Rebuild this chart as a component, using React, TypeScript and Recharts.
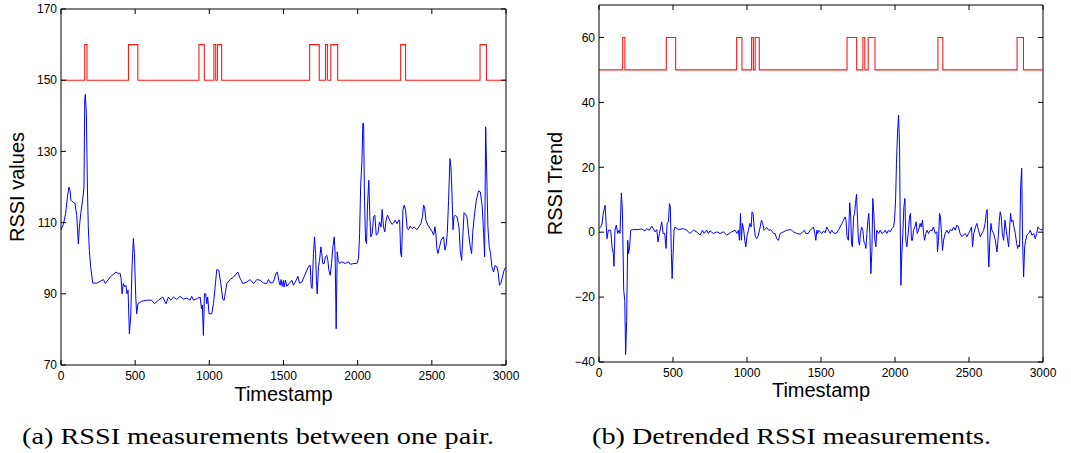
import { LineChart, Line, XAxis, YAxis, ReferenceLine } from "recharts";

const sans = "'Liberation Sans', Arial, Helvetica, sans-serif";

const timestampTicks = [0, 500, 1000, 1500, 2000, 2500, 3000];
const rssiTicks = [70, 90, 110, 130, 150, 170];
const trendTicks = [-40, -20, 0, 20, 40, 60];

// [timestamp, rssi]
const rssiPoints: [number, number][] = [
  [0, 108], [16, 109.5], [31, 112.5], [43, 117.2], [54, 120], [61, 119], [67, 116.3], [79, 115.8],
  [94, 115.4], [106, 112], [117, 104], [124, 108.8], [133, 112.5], [146, 116.3], [155, 120],
  [160, 144.4], [164, 146], [171, 140.7], [178, 120], [184, 108.8], [191, 102.2], [200, 97.6],
  [214, 93], [241, 93], [286, 94], [299, 92.9], [331, 94.7], [371, 96.1], [387, 95.7], [398, 95.8],
  [405, 94.3], [412, 90], [420, 92.9], [429, 92], [438, 92.4], [445, 90], [452, 91], [461, 78.8],
  [470, 83.5], [479, 97.6], [488, 105.5], [495, 101.3], [504, 89.1], [510, 84.4], [519, 87.2],
  [544, 87.9], [578, 88.2], [612, 88.2], [630, 87.2], [657, 88.2], [686, 89.1], [708, 87.2],
  [724, 89.1], [740, 88.2], [758, 89.1], [780, 88.4], [803, 89.3], [825, 88.5], [848, 88.8],
  [870, 88.2], [881, 89.3], [893, 88.2], [915, 88.6], [938, 89.1], [947, 85.8], [953, 86.8],
  [960, 78.3], [967, 90], [976, 90], [983, 87.2], [989, 89.1], [998, 84.4], [1016, 84.4],
  [1028, 87.2], [1039, 91.9], [1050, 96.8], [1064, 96.6], [1077, 92.9], [1091, 88.4], [1100, 88.2],
  [1118, 92.9], [1140, 94], [1163, 94.7], [1192, 96.1], [1208, 94.3], [1226, 92.9], [1253, 93.3],
  [1275, 94], [1298, 92.9], [1320, 94], [1342, 93.8], [1365, 93], [1387, 92.9], [1399, 94],
  [1414, 93], [1432, 93.3], [1450, 95.8], [1459, 96.1], [1468, 93.8], [1477, 92.4], [1484, 94],
  [1491, 92.1], [1500, 93.8], [1504, 91.9], [1513, 93.8], [1522, 92.1], [1540, 93], [1556, 93.8],
  [1567, 92.4], [1585, 93.8], [1597, 94.9], [1608, 93], [1624, 93.3], [1646, 95.5], [1669, 97.7],
  [1680, 98], [1687, 91.9], [1693, 91.5], [1702, 101.3], [1709, 106], [1716, 101.3], [1722, 93.8],
  [1727, 90], [1736, 97.6], [1743, 99.4], [1752, 103.2], [1758, 101.3], [1765, 98.5], [1774, 98.5],
  [1783, 100.4], [1792, 100.8], [1799, 99.4], [1806, 96.6], [1815, 95.2], [1824, 98.5],
  [1833, 103.2], [1842, 106], [1848, 101.3], [1855, 80.2], [1862, 101.8], [1869, 99.4],
  [1878, 98.5], [1893, 99], [1916, 98.5], [1938, 99], [1950, 98.3], [1972, 98.5], [1995, 98.5],
  [2006, 99.9], [2013, 106.9], [2020, 120], [2029, 127.5], [2035, 137.9], [2040, 137.9],
  [2046, 116.3], [2053, 105.1], [2060, 104.1], [2066, 114.4], [2075, 121.9], [2082, 111.6],
  [2089, 106], [2098, 106.9], [2107, 111.6], [2116, 112.1], [2125, 106.5], [2136, 106.9],
  [2147, 110.2], [2158, 108.8], [2165, 113.7], [2174, 108.8], [2183, 107.4], [2192, 110.7],
  [2201, 112.1], [2215, 110.7], [2231, 109.5], [2242, 109.9], [2253, 110.7], [2265, 109.7],
  [2276, 110.7], [2283, 110.7], [2290, 101.3], [2296, 100.4], [2305, 113.5], [2314, 114.9],
  [2323, 113.5], [2334, 108.3], [2343, 108], [2354, 109], [2368, 108.3], [2381, 108.8],
  [2399, 108], [2413, 108.8], [2426, 109.7], [2437, 111.6], [2444, 114.9], [2451, 114.4],
  [2460, 110.7], [2473, 109.3], [2489, 108.3], [2503, 107.4], [2512, 106.5], [2521, 108.8],
  [2528, 106.5], [2534, 102.7], [2541, 101.3], [2552, 103.2], [2563, 105.1], [2579, 106],
  [2588, 102.3], [2595, 103.2], [2604, 106.9], [2613, 116.3], [2622, 128], [2629, 125.6],
  [2636, 118.1], [2643, 108], [2649, 111.6], [2658, 112.1], [2670, 111.6], [2683, 108.8],
  [2692, 101.8], [2701, 99.4], [2710, 106.9], [2717, 112.8], [2726, 112.4], [2737, 111.6],
  [2748, 106.9], [2759, 103.2], [2768, 101.3], [2777, 107.9], [2788, 112.5], [2800, 116.3],
  [2815, 118.9], [2827, 118.6], [2840, 114.4], [2849, 106.9], [2856, 100.4], [2863, 136.9],
  [2869, 125.6], [2878, 108.8], [2887, 103.2], [2896, 101.3], [2905, 97.6], [2916, 96.1],
  [2927, 98], [2938, 97.6], [2947, 96.1], [2956, 92.4], [2965, 92.9], [2976, 94.7], [2987, 96.6],
  [3000, 97.6],
];

// [timestamp, detrended rssi]
const trendPoints: [number, number][] = [
  [0, 1.1], [11, 1.6], [20, 2.5], [29, 5.8], [41, 8.3], [47, 3.7], [54, -2], [63, 0.6], [79, 0.6],
  [88, -4.5], [97, -6.6], [101, -10.5], [108, 0.6], [117, 2.2], [126, -0.4], [135, 0.6], [142, -0.4],
  [151, 12.1], [158, 6.8], [167, -17.9], [174, -21], [180, -37.7], [187, -27.2], [194, -2.5],
  [200, -6.6], [207, -4.5], [214, 0.6], [232, 0.8], [266, 0.8], [288, 1], [311, 0.4], [322, 1.1],
  [340, 0.6], [356, 1.9], [367, 1.1], [379, 0.1], [390, 0.8], [399, -3], [408, -0.4], [417, 1.6],
  [424, 3.2], [433, -0.4], [444, -0.4], [453, -5], [460, 2.7], [469, 3.2], [476, 8.8], [482, 7.8],
  [489, -6.6], [494, -14.3], [500, -7.6], [507, 0.6], [514, 1.6], [536, 0.8], [570, 1.1],
  [593, 0.6], [615, -0.4], [638, 0.6], [660, 0.1], [683, -0.9], [699, 0.6], [710, -0.4],
  [728, 0.6], [739, -0.4], [750, 0.4], [773, -0.4], [796, 0.1], [818, -0.4], [841, 0.1],
  [863, -0.9], [881, -0.4], [897, 0.1], [920, 0.6], [931, -0.4], [942, 0.6], [949, -2.5],
  [956, 5.8], [962, -2.5], [969, 2.7], [978, 0.6], [985, -2.5], [992, -4.5], [1001, -0.9],
  [1010, 0.6], [1019, 2.7], [1028, 1.6], [1034, 6.3], [1041, 5.8], [1048, 1.6], [1057, -1.4],
  [1066, -2], [1077, -0.9], [1089, 1.6], [1098, 3.7], [1106, 2.7], [1116, 0.6], [1125, 1.1],
  [1134, 1.4], [1147, 0.6], [1161, 0.8], [1179, -0.4], [1190, -0.4], [1201, -2], [1213, -2.5],
  [1224, -0.4], [1246, 0.1], [1269, 0.6], [1291, 0.8], [1303, 0.6], [1314, 0.1], [1336, -0.4],
  [1359, -0.6], [1377, 0.1], [1388, 0.6], [1397, -0.4], [1415, -0.4], [1427, 0.6], [1438, 1.1],
  [1449, 1.6], [1458, -0.4], [1465, -2.5], [1472, 0.6], [1478, -0.4], [1485, 0.6], [1494, 0.1],
  [1506, -0.4], [1517, 0.4], [1528, -0.2], [1539, 1.6], [1551, 0.6], [1562, -0.4], [1573, 0.6],
  [1584, -0.2], [1602, -0.4], [1618, 0.6], [1629, 1.6], [1641, 2.7], [1652, 3.7], [1663, 4.7],
  [1669, 3.7], [1676, -1.4], [1685, -2.5], [1694, 9.1], [1701, 4.7], [1706, -3.5], [1712, -4.5],
  [1720, 4.7], [1727, 5.8], [1733, 8.8], [1740, 11.7], [1747, 3.7], [1753, -2.5], [1760, -4],
  [1767, -0.4], [1774, 1.6], [1783, 0.6], [1790, -3], [1797, -3.5], [1803, -5], [1810, -0.4],
  [1817, 3.7], [1823, 5.8], [1830, -0.4], [1837, -12.8], [1844, -5.6], [1850, 10.4], [1857, 5.8],
  [1864, -2.5], [1871, -4.5], [1877, 0.6], [1889, -0.4], [1900, 0.6], [1911, -0.4], [1922, -0.2],
  [1934, 0.6], [1945, -0.4], [1956, 0.6], [1968, 0.1], [1979, 1.1], [1990, 1.6], [1997, 3.7],
  [2004, 9.9], [2010, 21.2], [2017, 30.5], [2024, 36.1], [2031, 26.3], [2035, 3.7], [2040, -16.4],
  [2046, -6.6], [2053, -0.4], [2060, 7.8], [2067, 10.4], [2073, -2.5], [2080, -4.5], [2089, -0.4],
  [2098, 4.7], [2105, 5.8], [2111, -2.5], [2118, -2.5], [2125, 0.6], [2134, 1.6], [2143, 3.2],
  [2150, -0.4], [2159, 0.6], [2170, 2.7], [2177, 1.6], [2186, 3.7], [2193, -0.4], [2200, -2.5],
  [2208, -0.4], [2217, 0.6], [2226, -0.4], [2238, 0.6], [2249, 0.4], [2260, 1.6], [2271, -0.4],
  [2283, 0.1], [2287, -6.1], [2294, -2.5], [2301, 5.8], [2307, 4.7], [2314, -0.4], [2321, -5.6],
  [2328, -2.5], [2339, -0.4], [2351, 0.6], [2362, -0.4], [2373, 0.8], [2384, 0.4], [2396, 1.6],
  [2407, 0.6], [2418, 2.2], [2429, 1.6], [2440, -0.4], [2452, -1.4], [2463, -0.9], [2474, -0.4],
  [2486, -1.4], [2497, -0.4], [2509, 0.6], [2517, 1.6], [2524, -4.5], [2532, -0.4], [2544, 1.6],
  [2553, 2.7], [2564, 0.6], [2576, -1.4], [2587, -0.4], [2599, 0.6], [2609, 2.7], [2616, 5.8],
  [2623, 7], [2630, -6.6], [2634, -10.7], [2641, -2.5], [2648, 2.7], [2655, 0.6], [2666, -0.4],
  [2678, -2.5], [2689, -6.1], [2696, -2.5], [2705, 3.7], [2711, 6.3], [2718, 4.7], [2725, -0.4],
  [2734, -2.5], [2743, 3.7], [2752, 0.6], [2761, -2.5], [2768, -4.5], [2775, 1.6], [2781, 5.8],
  [2788, 3.2], [2797, 3.7], [2804, 1.6], [2813, -0.4], [2822, -3.5], [2829, -5], [2835, -4],
  [2842, -4.5], [2849, 14], [2856, 19.7], [2862, -2.5], [2869, -13.8], [2876, -4.5], [2883, -2.5],
  [2891, -0.9], [2903, -0.4], [2914, 0.6], [2925, -0.9], [2937, -0.4], [2948, -2], [2957, -0.4],
  [2966, 1.6], [2975, 1.1], [2986, 0.6], [3000, 1.1],
];

// start/end timestamps of the red indicator pulses (same in both panels)
const eventWindows: [number, number][] = [
  [160, 175], [455, 518], [930, 966], [1031, 1043], [1055, 1083],
  [1676, 1741], [1783, 1796], [1819, 1865], [2290, 2323], [2825, 2868],
];
const rssiEventLevels: [number, number] = [150, 160];
const trendEventLevels: [number, number] = [50, 60];

const toSeries = (pts: [number, number][]) => pts.map(([x, y]) => ({ x, y }));

function pulseSeries(windows: [number, number][], [low, high]: [number, number]) {
  const out = [{ x: 0, y: low }];
  windows.forEach(([a, b]) => {
    out.push({ x: a, y: low }, { x: a, y: high }, { x: b, y: high }, { x: b, y: low });
  });
  out.push({ x: 3000, y: low });
  return out;
}

const fmtTick = (v: number) => (v < 0 ? `\u2212${Math.abs(v)}` : `${v}`);

const CHART_H = 410;
const TICK_LEN = 5;
const X_MARGIN = 6; // gap between plot bottom and x tick label
const Y_MARGIN = 4; // gap between plot left and y tick label

interface PanelProps {
  left: number;
  width: number;
  margin: { top: number; right: number; bottom: number; left: number };
  yAxisWidth: number;
  xAxisHeight: number;
  yDomain: [number, number];
  yTicks: number[];
  yLabel: string;
  yLabelOffset: number;
  xLabelOffset: number;
  signal: { x: number; y: number }[];
  events: { x: number; y: number }[];
}

function Panel(p: PanelProps) {
  const axisStroke = { stroke: "#000" };
  const plotW = p.width - p.margin.left - p.margin.right - p.yAxisWidth;
  const plotH = CHART_H - p.margin.top - p.margin.bottom - p.xAxisHeight;

  // MATLAB-style inward ticks on both sides of the box
  const XTick = (t: any) => {
    const bottom = t.y - X_MARGIN;
    const top = bottom - plotH;
    return (
      <g>
        <line x1={t.x} x2={t.x} y1={bottom} y2={bottom - TICK_LEN} stroke="#000" />
        <line x1={t.x} x2={t.x} y1={top} y2={top + TICK_LEN} stroke="#000" />
        <text x={t.x} y={t.y} dy="0.71em" textAnchor="middle" fontSize={12} fontFamily={sans} fill="#000">
          {fmtTick(t.payload.value)}
        </text>
      </g>
    );
  };
  const YTick = (t: any) => {
    const lft = t.x + Y_MARGIN;
    const rgt = lft + plotW;
    return (
      <g>
        <line x1={lft} x2={lft + TICK_LEN} y1={t.y} y2={t.y} stroke="#000" />
        <line x1={rgt} x2={rgt - TICK_LEN} y1={t.y} y2={t.y} stroke="#000" />
        <text x={t.x} y={t.y} dy="0.355em" textAnchor="end" fontSize={12} fontFamily={sans} fill="#000">
          {fmtTick(t.payload.value)}
        </text>
      </g>
    );
  };

  return (
    <div style={{ position: "absolute", left: p.left, top: 0 }}>
      <LineChart width={p.width} height={CHART_H} margin={p.margin}>
        <XAxis
          xAxisId="b"
          type="number"
          dataKey="x"
          domain={[0, 3000]}
          ticks={timestampTicks}
          interval={0}
          height={p.xAxisHeight}
          tickSize={0}
          tickMargin={X_MARGIN}
          axisLine={axisStroke}
          tickLine={false}
          tick={XTick}
          allowDataOverflow
          label={{
            value: "Timestamp",
            position: "insideBottom",
            offset: p.xLabelOffset,
            fontSize: 20,
            fill: "#000",
            fontFamily: sans,
          }}
        />
        <YAxis
          yAxisId="l"
          type="number"
          domain={p.yDomain}
          ticks={p.yTicks}
          interval={0}
          width={p.yAxisWidth}
          tickSize={0}
          tickMargin={Y_MARGIN}
          axisLine={axisStroke}
          tickLine={false}
          tick={YTick}
          allowDataOverflow
          label={{
            value: p.yLabel,
            angle: -90,
            position: "insideLeft",
            offset: p.yLabelOffset,
            fontSize: 20,
            fill: "#000",
            fontFamily: sans,
            style: { textAnchor: "middle" },
          }}
        />
        {/* top and right edges of the box */}
        <ReferenceLine xAxisId="b" yAxisId="l" y={p.yDomain[1]} stroke="#000" ifOverflow="visible" />
        <ReferenceLine xAxisId="b" yAxisId="l" x={3000} stroke="#000" ifOverflow="visible" />
        <Line
          xAxisId="b"
          yAxisId="l"
          data={p.events}
          dataKey="y"
          type="linear"
          stroke="#ff1a1a"
          strokeWidth={1.1}
          dot={false}
          activeDot={false}
          isAnimationActive={false}
        />
        <Line
          xAxisId="b"
          yAxisId="l"
          data={p.signal}
          dataKey="y"
          type="linear"
          stroke="#0000ff"
          strokeWidth={1}
          dot={false}
          activeDot={false}
          isAnimationActive={false}
        />
      </LineChart>
    </div>
  );
}

export default function App() {
  const serif = "'Liberation Serif', 'DejaVu Serif', 'Times New Roman', serif";
  return (
    <div
      style={{
        position: "absolute",
        left: 0,
        top: 0,
        width: 1071,
        height: 453,
        background: "#fff",
        overflow: "hidden",
      }}
    >
      <Panel
        left={0}
        width={530}
        margin={{ top: 9, right: 24, bottom: 0, left: 0 }}
        yAxisWidth={61}
        xAxisHeight={45}
        yDomain={[70, 170]}
        yTicks={rssiTicks}
        yLabel="RSSI values"
        yLabelOffset={17}
        xLabelOffset={9}
        signal={toSeries(rssiPoints)}
        events={pulseSeries(eventWindows, rssiEventLevels)}
      />
      <Panel
        left={540}
        width={531}
        margin={{ top: 5, right: 28, bottom: 0, left: 0 }}
        yAxisWidth={59}
        xAxisHeight={48}
        yDomain={[-40, 70]}
        yTicks={trendTicks}
        yLabel="RSSI Trend"
        yLabelOffset={15}
        xLabelOffset={13}
        signal={toSeries(trendPoints)}
        events={pulseSeries(eventWindows, trendEventLevels)}
      />
      <svg
        width={1071}
        height={453}
        style={{ position: "absolute", left: 0, top: 0, pointerEvents: "none" }}
      >
        <text
          x={22}
          y={444}
          fontFamily={serif}
          fontSize={24}
          fill="#000"
          textLength={472}
          lengthAdjust="spacingAndGlyphs"
        >
          (a) RSSI measurements between one pair.
        </text>
        <text
          x={592}
          y={444}
          fontFamily={serif}
          fontSize={24}
          fill="#000"
          textLength={399}
          lengthAdjust="spacingAndGlyphs"
        >
          (b) Detrended RSSI measurements.
        </text>
      </svg>
    </div>
  );
}
